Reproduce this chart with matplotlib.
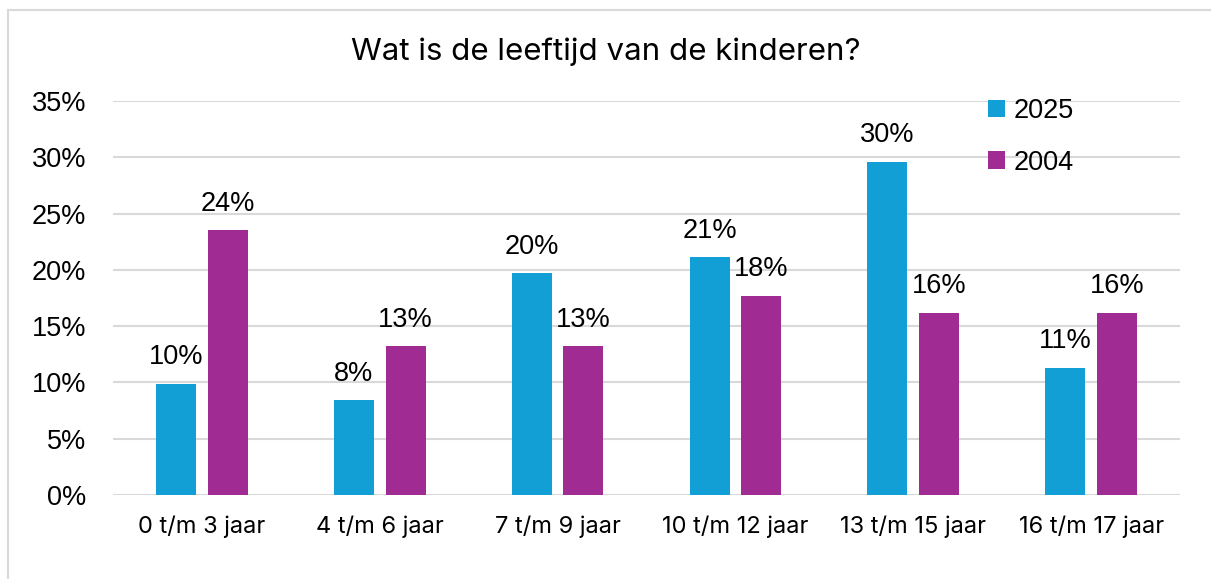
import numpy as np
import matplotlib.pyplot as plt
from matplotlib.patches import Rectangle

categories = ['0 t/m 3 jaar', '4 t/m 6 jaar', '7 t/m 9 jaar',
              '10 t/m 12 jaar', '13 t/m 15 jaar', '16 t/m 17 jaar']
vals_2025 = [0.099, 0.084, 0.197, 0.211, 0.296, 0.113]
vals_2004 = [0.235, 0.132, 0.132, 0.177, 0.162, 0.162]
labels_2025 = ['10%', '8%', '20%', '21%', '30%', '11%']
labels_2004 = ['24%', '13%', '13%', '18%', '16%', '16%']
yticks = [0, 0.05, 0.10, 0.15, 0.20, 0.25, 0.30, 0.35]

blue = '#129FD5'
purple = '#A02B93'
numfont = 'Liberation Sans'

fig = plt.figure(figsize=(12.11, 5.79), dpi=100)
ax = fig.add_axes([113/1211, 1-495/579, (1180-113)/1211, (495-101)/579])

# outer chart border (only top/left visible in the crop)
fig.patches.append(Rectangle((8/1211, -0.1), 1.2, 1-10/579+0.1, transform=fig.transFigure,
                             fill=False, edgecolor='#d9d9d9', linewidth=1.5))

x = np.arange(len(categories))
w = 0.225
off = 0.145
b1 = ax.bar(x - off, vals_2025, w, color=blue, label='2025', zorder=3)
b2 = ax.bar(x + off, vals_2004, w, color=purple, label='2004', zorder=3)

for bars, labs in ((b1, labels_2025), (b2, labels_2004)):
    for r, t in zip(bars, labs):
        ax.text(r.get_x() + r.get_width()/2, r.get_height() + 0.012, t,
                ha='center', va='bottom', fontsize=19.5, family=numfont)

ax.set_xlim(-0.5, len(categories) - 0.5)
ax.set_ylim(0, 0.35)
ax.set_yticks(yticks)
ax.set_yticklabels([f'{int(round(v*100))}%' for v in yticks], fontsize=19.5, family=numfont)
ax.set_xticks(x)
ax.set_xticklabels(categories, fontsize=17, family='Inter')
ax.tick_params(length=0)
ax.tick_params(axis='y', pad=19.5)
ax.tick_params(axis='x', pad=15)
for s in ax.spines.values():
    s.set_visible(False)
ax.yaxis.grid(True, color='#d9d9d9', linewidth=1.5, zorder=0)
ax.set_axisbelow(True)

ax.legend(loc='upper left', bbox_to_anchor=(851/1067, 1.07), frameon=False,
          prop={'family': numfont, 'size': 19.5}, handlelength=0.6, handleheight=0.6,
          handletextpad=0.35, labelspacing=0.95)

fig.text(0.5, 1-52/579, 'Wat is de leeftijd van de kinderen?', ha='center', va='center',
         fontsize=22.5, family='Inter')

fig.savefig('out.png', dpi=100, facecolor='white')
